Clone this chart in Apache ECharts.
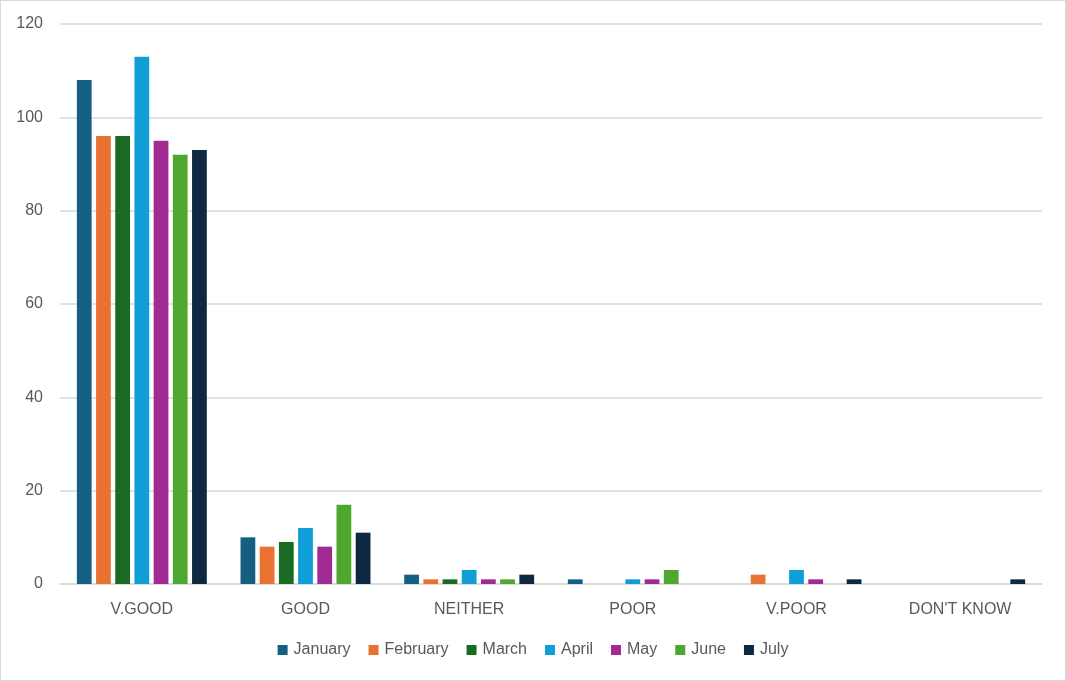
<!DOCTYPE html>
<html>
<head>
<meta charset="utf-8">
<script src="https://cdn.jsdelivr.net/npm/echarts@6/dist/echarts.min.js"></script>
<style>
html,body{margin:0;padding:0;background:#fff;}
#chart{width:1066px;height:681px;box-sizing:border-box;border:1px solid #d9d9d9;}
</style>
</head>
<body>
<div id="chart"></div>
<script>
const categories = ['V.GOOD', 'GOOD', 'NEITHER', 'POOR', 'V.POOR', "DON'T KNOW"];
const january  = [108, 10, 2, 1, 0, 0];
const february = [96, 8, 1, 0, 2, 0];
const march    = [96, 9, 1, 0, 0, 0];
const april    = [113, 12, 3, 1, 3, 0];
const may      = [95, 8, 1, 1, 1, 0];
const june     = [92, 17, 1, 3, 0, 0];
const july     = [93, 11, 2, 0, 1, 1];
const yTicks = [0, 20, 40, 60, 80, 100, 120];

const seriesDefs = [
  ['January', january, '#156082'],
  ['February', february, '#E97132'],
  ['March', march, '#196B24'],
  ['April', april, '#0F9ED5'],
  ['May', may, '#A02B93'],
  ['June', june, '#4EA72E'],
  ['July', july, '#0E2841']
];

const chart = echarts.init(document.getElementById('chart'));
const font = 'Liberation Sans, Arial, sans-serif';
chart.setOption({
  animation: false,
  textStyle: { fontFamily: font },
  grid: { left: 59, right: 23, top: 23, bottom: 96, containLabel: false },
  legend: {
    bottom: 17,
    left: 'center',
    itemWidth: 10,
    itemHeight: 10,
    itemGap: 18,
    icon: 'rect',
    textStyle: { color: '#595959', fontSize: 16, fontFamily: font, padding: [0, 0, 0, 1] },
    data: seriesDefs.map(s => s[0])
  },
  xAxis: {
    type: 'category',
    data: categories,
    axisLine: { lineStyle: { color: '#d9d9d9', width: 1.5 } },
    axisTick: { show: false },
    axisLabel: { color: '#595959', fontSize: 16, margin: 18, fontFamily: font }
  },
  yAxis: {
    type: 'value',
    min: yTicks[0],
    max: yTicks[yTicks.length - 1],
    interval: 20,
    axisLine: { show: false },
    axisTick: { show: false },
    splitLine: { lineStyle: { color: '#d9d9d9', width: 1.5 } },
    axisLabel: { color: '#595959', fontSize: 16, margin: 17, fontFamily: font }
  },
  series: seriesDefs.map(([name, data, color]) => ({
    name, type: 'bar', data,
    itemStyle: { color },
    barGap: '30%',
    barCategoryGap: '20.6%'
  }))
});
</script>
</body>
</html>
